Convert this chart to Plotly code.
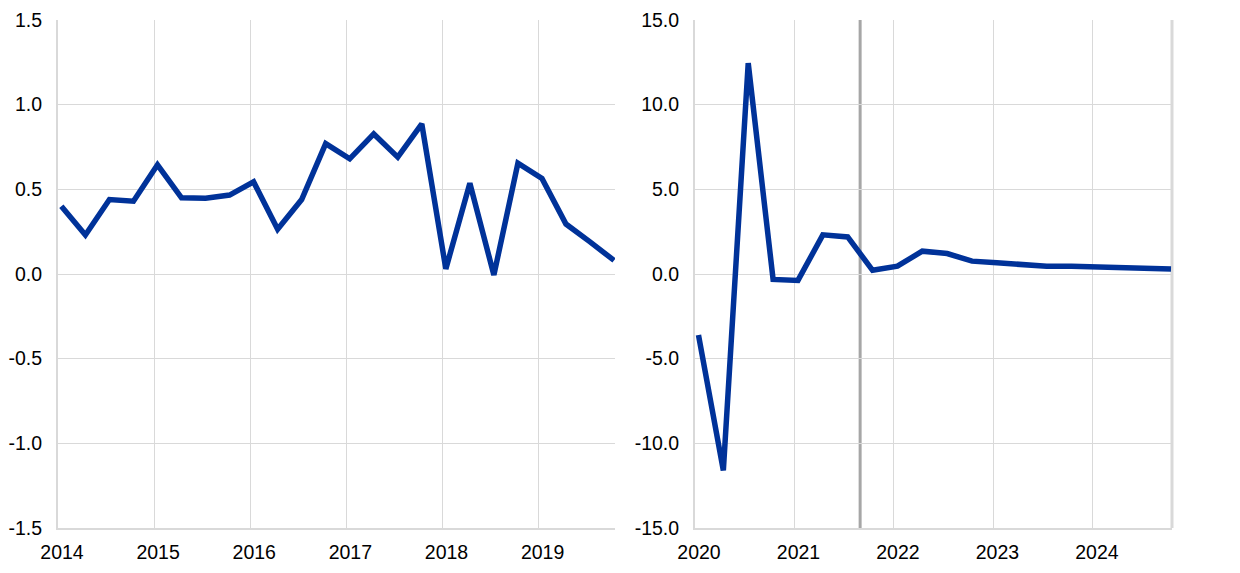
import plotly.graph_objects as go

# ---- data ----
left_years = [2014, 2015, 2016, 2017, 2018, 2019]
left_values = [0.40, 0.23, 0.44, 0.43, 0.645, 0.45, 0.448, 0.466, 0.544, 0.265, 0.44, 0.77,
               0.68, 0.827, 0.69, 0.886, 0.03, 0.536, -0.006, 0.654, 0.564, 0.295, 0.19, 0.08]
right_years = [2020, 2021, 2022, 2023, 2024]
right_values = [-3.6, -11.6, 12.45, -0.32, -0.38, 2.31, 2.19, 0.22, 0.46, 1.35, 1.21, 0.76,
                0.66, 0.52, 0.46, 0.46, 0.41, 0.39, 0.35, 0.30]
left_yticks = [-1.5, -1.0, -0.5, 0.0, 0.5, 1.0, 1.5]
right_yticks = [-15.0, -10.0, -5.0, 0.0, 5.0, 10.0, 15.0]
projection_start = 2021.66

def quarter_x(start_year, n):
    return [start_year + i / 4 + 0.035 for i in range(n)]

lx = quarter_x(left_years[0], len(left_values))
rx = quarter_x(right_years[0], len(right_values))

BLUE = "#003299"
GRID = "#d9d9d9"
FONT = dict(family="Liberation Sans, Arial, sans-serif", size=19.5, color="#000000")

fig = go.Figure()
fig.add_trace(go.Scatter(x=lx, y=left_values, mode="lines", xaxis="x", yaxis="y",
                         line=dict(color=BLUE, width=5.5), showlegend=False))
fig.add_trace(go.Scatter(x=rx, y=right_values, mode="lines", xaxis="x2", yaxis="y2",
                         line=dict(color=BLUE, width=5.5), showlegend=False))

W, H = 1240, 573
OFF = 8  # page body margin offset
common_x = dict(showgrid=True, gridcolor=GRID, gridwidth=1, showline=True, linecolor=GRID,
                linewidth=2, ticks="", tickfont=FONT, zeroline=False, ticklabelstandoff=6,
                ticklabelshift=4, automargin=False)
common_y = dict(showgrid=True, gridcolor=GRID, gridwidth=1, showline=True, linecolor=GRID,
                linewidth=2, ticks="", tickfont=FONT, zeroline=False, ticklabelstandoff=10,
                automargin=False)

fig.update_layout(
    width=W, height=H,
    margin=dict(l=0, r=0, t=20 - OFF, b=H - (528 - OFF), autoexpand=False),
    paper_bgcolor="white", plot_bgcolor="white",
    font=FONT,
    xaxis=dict(domain=[(58 - OFF) / W, (615 - OFF) / W], range=[left_years[0], lx[-1] + 0.01],
               tickvals=left_years, ticktext=[str(y) for y in left_years], anchor="y", **common_x),
    yaxis=dict(domain=[0, 1], range=[left_yticks[0], left_yticks[-1]], tickvals=left_yticks,
               ticktext=[f"{v:.1f}" for v in left_yticks], anchor="x", **common_y),
    xaxis2=dict(domain=[(695 - OFF) / W, (1172 - OFF) / W], range=[right_years[0], rx[-1] + 0.01],
                tickvals=right_years, ticktext=[str(y) for y in right_years], anchor="y2", **common_x),
    yaxis2=dict(domain=[0, 1], range=[right_yticks[0], right_yticks[-1]], tickvals=right_yticks,
                ticktext=[f"{v:.1f}" for v in right_yticks], anchor="x2", **common_y),
    shapes=[
        dict(type="line", xref="x2", yref="y2 domain", x0=projection_start, x1=projection_start,
             y0=0, y1=1, line=dict(color="#a6a6a6", width=3), layer="below"),
        dict(type="line", xref="x2 domain", yref="y2 domain", x0=1, x1=1, y0=0, y1=1,
             line=dict(color=GRID, width=3), layer="below"),
    ],
)

fig.write_html("out.html")
